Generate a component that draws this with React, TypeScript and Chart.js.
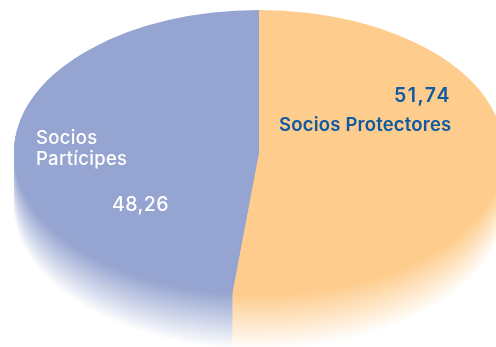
import React, { useEffect, useRef } from "react";
import { Chart, registerables } from "chart.js";

Chart.register(...registerables);

const categories = ["Socios Protectores", "Socios Partícipes"];
const shares = [51.74, 48.26];
const sliceColors = ["#fecc8c", "#95a4d0"];

// Ellipse of the tilted disc and depth of its fading rim, in CSS pixels.
const DISC = { cx: 259, cy: 152, rx: 245, ry: 142, depth: 56 };

function mixWithWhite(hex: string, t: number) {
  const n = parseInt(hex.slice(1), 16);
  const ch = (v: number) => Math.round(v + (255 - v) * t);
  return `rgb(${ch((n >> 16) & 255)},${ch((n >> 8) & 255)},${ch(n & 255)})`;
}

// Squashes the round pie into an ellipse and paints the rim under it.
const tiltedDisc = {
  id: "tiltedDisc",
  beforeDatasetsDraw(chart: any) {
    const { ctx } = chart;
    const arcs = chart.getDatasetMeta(0).data;
    const R = arcs[0].outerRadius;
    const apply = (dy: number) => {
      ctx.translate(DISC.cx, DISC.cy + dy);
      ctx.scale(DISC.rx / R, DISC.ry / R);
      ctx.translate(-arcs[0].x, -arcs[0].y);
    };
    for (let d = DISC.depth; d >= 1; d -= 0.5) {
      const t = d / DISC.depth;
      arcs.forEach((arc: any, i: number) => {
        ctx.save();
        apply(d);
        ctx.beginPath();
        ctx.moveTo(arc.x, arc.y);
        ctx.arc(arc.x, arc.y, R, arc.startAngle, arc.endAngle);
        ctx.closePath();
        ctx.fillStyle = mixWithWhite(sliceColors[i], t);
        ctx.fill();
        ctx.restore();
      });
    }
    ctx.save();
    apply(0);
  },
  afterDatasetsDraw(chart: any) {
    chart.ctx.restore();
  },
};

// Value and name captions placed over each slice.
const captions = {
  id: "captions",
  afterDraw(chart: any) {
    const { ctx } = chart;
    const value = (i: number) => shares[i].toFixed(2).replace(".", ",");
    const [partA, partB] = categories[1].split(" ");
    ctx.save();
    ctx.textBaseline = "alphabetic";
    ctx.textAlign = "left";
    ctx.fillStyle = "#0f5aa0";
    ctx.font = "600 19.5px Inter";
    ctx.letterSpacing = "1.5px";
    ctx.fillText(value(0), 394, 102);
    ctx.font = "600 18.5px Inter";
    ctx.letterSpacing = "0.2px";
    ctx.fillText(categories[0], 279, 131);
    ctx.fillStyle = "#ffffff";
    ctx.font = "500 18.5px Inter";
    ctx.letterSpacing = "0.3px";
    ctx.fillText(partA, 36, 144);
    ctx.fillText(partB, 36, 165);
    ctx.font = "500 19.5px Inter";
    ctx.letterSpacing = "0.4px";
    ctx.fillText(value(1), 112, 211);
    ctx.restore();
  },
};

export default function App() {
  const ref = useRef<HTMLCanvasElement>(null);
  useEffect(() => {
    const chart = new Chart(ref.current!, {
      type: "pie",
      data: {
        labels: categories,
        datasets: [{ data: shares, backgroundColor: sliceColors, borderWidth: 0 }],
      },
      options: {
        animation: false,
        responsive: false,
        plugins: { legend: { display: false }, tooltip: { enabled: false } },
      },
      plugins: [tiltedDisc, captions],
    });
    return () => chart.destroy();
  }, []);
  return (
    <div style={{ position: "fixed", left: 0, top: 0, width: 496, height: 347, background: "#fff" }}>
      <canvas ref={ref} width={496} height={347} style={{ display: "block" }} />
    </div>
  );
}
